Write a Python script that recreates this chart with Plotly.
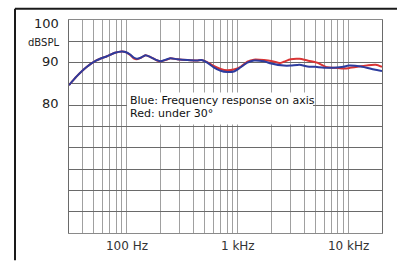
import math
import plotly.graph_objects as go

# ---- data ----
freq_blue = [30, 35, 43, 53, 66, 78, 90, 97, 107, 115, 123, 133, 147, 163, 187, 200, 230, 247, 284,
             350, 430, 470, 530, 606, 700, 800, 920, 1060, 1220, 1400, 1720, 2000, 2600, 3000,
             3600, 4250, 5000, 6000, 7400, 9000, 10000, 12900, 17000, 20000]
spl_blue = [84.7, 86.7, 88.9, 90.5, 91.5, 92.3, 92.6, 92.5, 91.9, 91.2, 90.9, 91.15, 91.75, 91.3, 90.55,
            90.3, 90.8, 91.0, 90.8, 90.6, 90.5, 90.6, 90.0, 88.9, 88.1, 87.8, 87.9, 88.9, 90.0, 90.5,
            90.3, 89.8, 89.3, 89.3, 89.5, 89.1, 89.0, 88.8, 88.8, 89.0, 89.3, 89.1, 88.4, 88.05]

freq_red = [30, 35, 43, 53, 66, 78, 90, 97, 107, 115, 123, 133, 147, 163, 187, 200, 230, 247, 284,
            350, 430, 470, 530, 606, 700, 800, 920, 1060, 1220, 1400, 1720, 2000, 2400, 2600, 3000,
            3600, 4250, 5200, 6400, 7400, 9100, 10000, 12000, 15000, 17600, 20000]
spl_red = [84.7, 86.7, 88.9, 90.5, 91.5, 92.3, 92.6, 92.5, 91.8, 91.0, 90.8, 91.1, 91.7, 91.3, 90.5,
           90.3, 90.7, 91.0, 90.8, 90.6, 90.5, 90.6, 90.1, 89.2, 88.5, 88.2, 88.4, 89.0, 90.2, 90.7,
           90.6, 90.4, 89.9, 90.2, 90.8, 90.9, 90.5, 90.0, 88.9, 88.8, 88.6, 88.7, 89.0, 89.4, 89.5, 89.0]

x_grid = [30, 40, 50, 60, 70, 80, 90, 100, 200, 300, 400, 500, 600, 700, 800, 900, 1000,
          2000, 3000, 4000, 5000, 6000, 7000, 8000, 9000, 10000, 20000]
x_labels = {100: "100 Hz", 1000: "1 kHz", 10000: "10 kHz"}
y_labels = [(100, "100"), (95, "dBSPL"), (90, "90"), (80, "80")]
legend_lines = ["Blue: Frequency response on axis", "Red: under 30°"]

FONT = "DejaVu Sans"

fig = go.Figure()
fig.add_trace(go.Scatter(x=freq_red, y=spl_red, mode="lines",
                         line=dict(color="#d93434", width=2, shape="spline", smoothing=0.6),
                         hoverinfo="skip"))
fig.add_trace(go.Scatter(x=freq_blue, y=spl_blue, mode="lines",
                         line=dict(color="#2d3c9e", width=2, shape="spline", smoothing=0.6),
                         hoverinfo="skip"))

fig.update_layout(
    width=397, height=265,
    margin=dict(l=69, r=15, t=20, b=19, pad=0),
    paper_bgcolor="white", plot_bgcolor="white",
    showlegend=False,
    font=dict(family=FONT, size=12, color="#333333"),
)
fig.update_xaxes(
    type="log", range=[math.log10(30), math.log10(20000)],
    tickmode="array", tickvals=x_grid,
    ticktext=[x_labels.get(v, "") for v in x_grid],
    showgrid=True, gridcolor="#a0a0a0", gridwidth=1,
    showline=True, mirror=True, linecolor="#8a8a8a", linewidth=1,
    ticks="", zeroline=False, tickfont=dict(family=FONT, size=12, color="#333333"),
    ticklabelstandoff=2,
)
fig.update_yaxes(
    range=[50, 100], tickmode="array", tickvals=list(range(50, 101, 5)),
    showticklabels=False,
    showgrid=True, gridcolor="#6a6a6a", gridwidth=1,
    showline=True, mirror=True, linecolor="#6a6a6a", linewidth=1,
    ticks="", zeroline=False,
)

# y labels
shifts = {100: -3, 95: -1, 90: 1, 80: 2}
for val, txt in y_labels:
    fig.add_annotation(x=-0.026, xref="paper", y=val, yref="y", text=txt,
                       showarrow=False, xanchor="right", yanchor="middle",
                       yshift=shifts[val],
                       font=dict(family=FONT, size=10 if txt == "dBSPL" else 13, color="#222222"))

# helpers: reference-pixel -> paper coords (plot area 69..382 x 20..246)
def px_x(p):
    return (p - 69) / 313.0

def px_y(p):
    return 1 - (p - 20) / 226.0

fig.add_shape(type="rect", xref="paper", yref="paper",
              x0=px_x(127), x1=px_x(313), y0=px_y(131), y1=px_y(97),
              fillcolor="white", line=dict(width=0), layer="above")
fig.add_annotation(x=px_x(128), y=px_y(105.5), xref="paper", yref="paper",
                   text=legend_lines[0], showarrow=False, xanchor="left", yanchor="middle",
                   font=dict(family=FONT, size=11, color="#111111"))
fig.add_annotation(x=px_x(128), y=px_y(119), xref="paper", yref="paper",
                   text=legend_lines[1], showarrow=False, xanchor="left", yanchor="middle",
                   font=dict(family=FONT, size=11, color="#111111"))

# outer black frame (left and top)
fig.add_shape(type="line", xref="paper", yref="paper",
              x0=px_x(15), x1=px_x(15), y0=px_y(275), y1=px_y(8),
              line=dict(color="#1a1a1a", width=2))
fig.add_shape(type="line", xref="paper", yref="paper",
              x0=px_x(15), x1=px_x(410), y0=px_y(8), y1=px_y(8),
              line=dict(color="#1a1a1a", width=2))

fig.write_html("out.html",
               config={"displayModeBar": False, "staticPlot": True},
               post_script="document.body.style.margin='0';document.body.style.overflow='hidden';")
